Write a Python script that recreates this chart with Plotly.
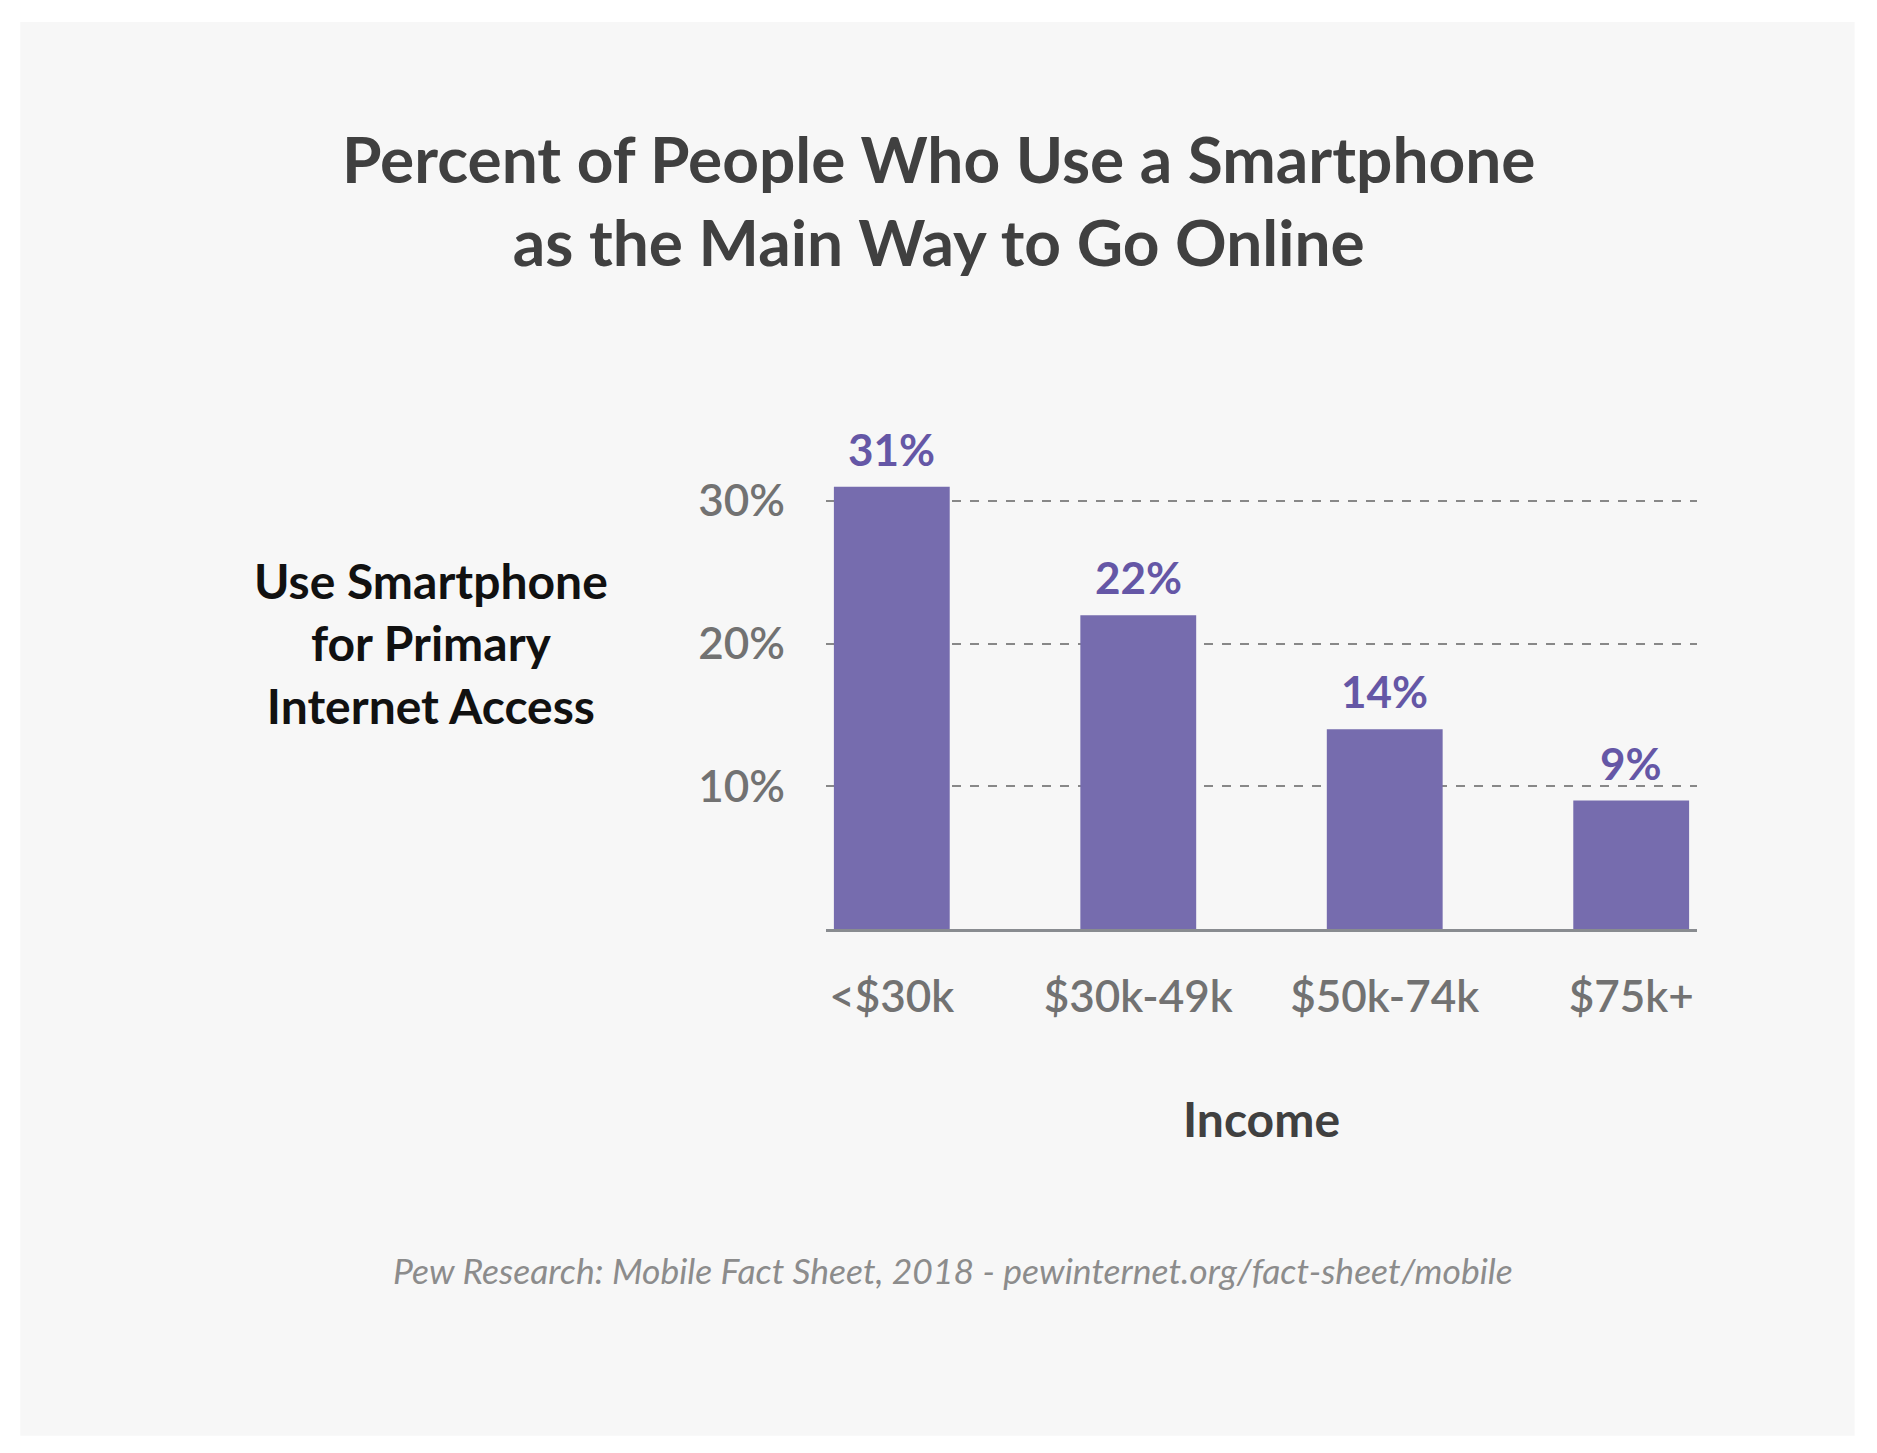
import plotly.graph_objects as go

# Pew Research, Mobile Fact Sheet 2018
income_groups = ["<$30k", "$30k-49k", "$50k-74k", "$75k+"]
smartphone_pct = [31, 22, 14, 9]
y_tick_vals = [10, 20, 30]
y_tick_text = ["10%", "20%", "30%"]

BAR_COLOR = "#766cae"
LABEL_COLOR = "#6557a6"
GRAY = "#727272"
FONT = "Lato"

fig = go.Figure()

fig.add_trace(go.Bar(
    x=income_groups,
    y=smartphone_pct,
    width=0.47,
    marker=dict(color=BAR_COLOR, line=dict(width=0)),
    hoverinfo="skip",
))

# value labels above the bars
for cat, val in zip(income_groups, smartphone_pct):
    fig.add_annotation(
        x=cat, y=val, xref="x", yref="y",
        text="<b>%d%%</b>" % val, showarrow=False,
        yanchor="middle", yshift=38,
        font=dict(family=FONT, size=44, color=LABEL_COLOR),
    )

# left-hand axis label block
fig.add_annotation(
    x=-0.4535, y=0.59, xref="paper", yref="paper",
    text="<b>Use Smartphone<br>for Primary<br>Internet Access</b>",
    showarrow=False, align="center", xanchor="center", yanchor="middle",
    font=dict(family=FONT, size=48, color="#111111"),
)

# source note
fig.add_annotation(
    x=0.146, y=-0.704, xref="paper", yref="paper",
    text="<i>Pew Research: Mobile Fact Sheet, 2018 - pewinternet.org/fact-sheet/mobile</i>",
    showarrow=False, xanchor="center", yanchor="middle",
    font=dict(family=FONT, size=35.5, color="#8c8c8c"),
)

# light gray card behind everything
fig.add_shape(
    type="rect", xref="paper", yref="paper",
    x0=-0.925, x1=1.181, y0=-1.045, y1=1.87,
    fillcolor="#f7f7f7", line=dict(width=0), layer="below",
)

# page body has an 8px margin, so the figure is drawn 8px smaller
fig.update_layout(
    width=1869, height=1445,
    margin=dict(l=818, r=180, t=436, b=524),
    paper_bgcolor="white",
    plot_bgcolor="rgba(0,0,0,0)",
    showlegend=False,
    title=dict(
        text="<b>Percent of People Who Use a Smartphone<br>as the Main Way to Go Online</b>",
        x=0.498, xanchor="center", y=0.879, yanchor="middle",
        font=dict(family=FONT, size=64, color="#404040"),
    ),
)

fig.update_xaxes(
    range=[-0.267, 3.267],
    showline=True, linecolor="#898c90", linewidth=3,
    showgrid=False, ticks="",
    ticklabelstandoff=27,
    tickfont=dict(family=FONT, size=44, color=GRAY, weight=600),
    title=dict(text="<b>Income</b>", standoff=84,
               font=dict(family=FONT, size=48, color="#404040")),
)

fig.update_yaxes(
    range=[0, 34],
    tickvals=y_tick_vals, ticktext=y_tick_text,
    showgrid=True, gridcolor="#888888", gridwidth=1.5, griddash="dash",
    zeroline=False, showline=False, ticks="",
    ticklabelstandoff=40,
    tickfont=dict(family=FONT, size=44, color=GRAY, weight=600),
)

fig.write_html("out.html")
